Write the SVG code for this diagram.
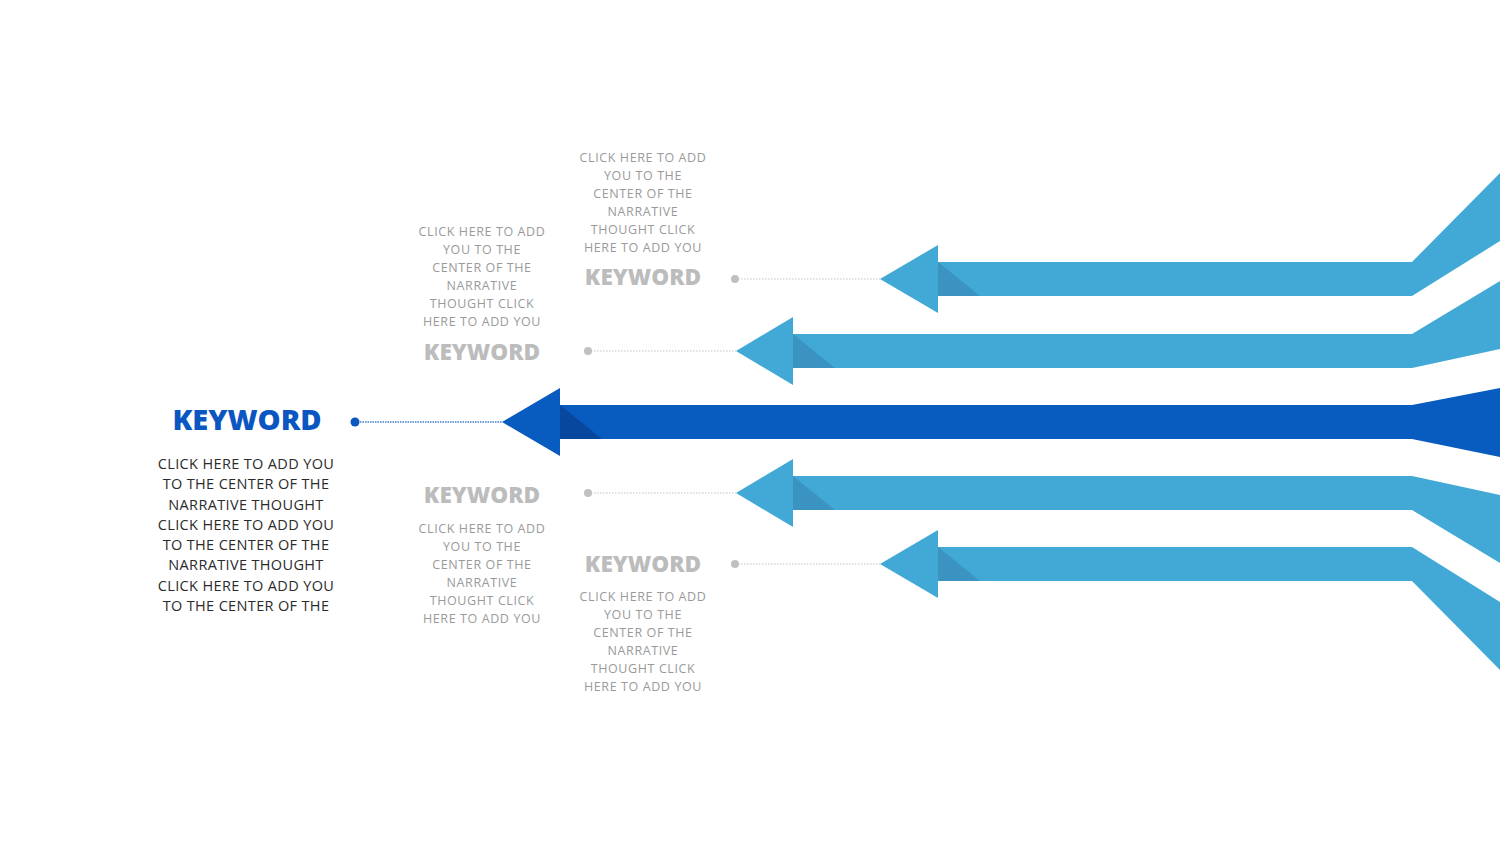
<svg xmlns="http://www.w3.org/2000/svg" width="1500" height="844" viewBox="0 0 1500 844">
<style>
.lb{fill:#42a9d6}
.lbd{fill:#3a93c0}
.db{fill:#085bbf}
.dbd{fill:#07479e}
.kw{font-family:"Open Sans","Liberation Sans",sans-serif;font-weight:800;font-size:22.6px;fill:#bcbcbc;text-anchor:middle}
.kwb{font-family:"Open Sans","Liberation Sans",sans-serif;font-weight:800;font-size:29px;fill:#0a57c2;text-anchor:middle}
.gt{font-family:"Open Sans","Liberation Sans",sans-serif;font-size:12.5px;fill:#9a9a9a;text-anchor:middle;letter-spacing:0.6px}
.bt{font-family:"Open Sans","Liberation Sans",sans-serif;font-size:14.5px;fill:#2b2b2b;text-anchor:middle;letter-spacing:0.35px}
.dl{stroke:#c4c4c4;stroke-width:1.2;stroke-dasharray:1.5 1.5;fill:none}
.dlb{stroke:#3f7fd0;stroke-width:1.5;stroke-dasharray:1.5 1;fill:none}
</style>
<rect width="1500" height="844" fill="#ffffff"/>
<g id="connectors">
<line class="dl" x1="735" y1="279" x2="880" y2="279"/>
<circle cx="735" cy="279" r="4" fill="#c0c0c0"/>
<line class="dl" x1="588" y1="351" x2="736" y2="351"/>
<circle cx="588" cy="351" r="4" fill="#c0c0c0"/>
<line class="dlb" x1="355" y1="422" x2="502" y2="422"/>
<circle cx="355" cy="422" r="4.5" fill="#0a57c2"/>
<line class="dl" x1="588" y1="493" x2="736" y2="493"/>
<circle cx="588" cy="493" r="4" fill="#c0c0c0"/>
<line class="dl" x1="735" y1="564" x2="880" y2="564"/>
<circle cx="735" cy="564" r="4" fill="#c0c0c0"/>
</g>
<g id="arrow1">
<polygon class="lb" points="938,262 1412,262 1500,173 1500,241 1412,296 938,296"/>
<polygon class="lbd" points="938,262 980,296 938,296"/>
<polygon class="lb" points="880,279 938,245 938,313"/>
</g>
<g id="arrow2">
<polygon class="lb" points="793,334 1412,334 1500,281 1500,349 1412,368 793,368"/>
<polygon class="lbd" points="793,334 835,368 793,368"/>
<polygon class="lb" points="736,351 793,317 793,385"/>
</g>
<g id="arrow3">
<polygon class="db" points="560,405 1412,405 1500,388 1500,457 1412,439 560,439"/>
<polygon class="dbd" points="560,405 602,439 560,439"/>
<polygon class="db" points="502,422 560,388 560,456"/>
</g>
<g id="arrow4">
<polygon class="lb" points="793,476 1412,476 1500,495 1500,563 1412,510 793,510"/>
<polygon class="lbd" points="793,476 835,510 793,510"/>
<polygon class="lb" points="736,493 793,459 793,527"/>
</g>
<g id="arrow5">
<polygon class="lb" points="938,547 1412,547 1500,602 1500,670 1412,581 938,581"/>
<polygon class="lbd" points="938,547 980,581 938,581"/>
<polygon class="lb" points="880,564 938,530 938,598"/>
</g>
<g id="node-top">
<text class="gt" x="643"><tspan x="643" y="162">CLICK HERE TO ADD</tspan><tspan x="643" y="180">YOU TO THE</tspan><tspan x="643" y="198">CENTER OF THE</tspan><tspan x="643" y="216">NARRATIVE</tspan><tspan x="643" y="234">THOUGHT CLICK</tspan><tspan x="643" y="252">HERE TO ADD YOU</tspan></text>
<text class="kw" x="643" y="285">KEYWORD</text>
</g>
<g id="node-upper">
<text class="gt" x="482"><tspan x="482" y="236">CLICK HERE TO ADD</tspan><tspan x="482" y="254">YOU TO THE</tspan><tspan x="482" y="272">CENTER OF THE</tspan><tspan x="482" y="290">NARRATIVE</tspan><tspan x="482" y="308">THOUGHT CLICK</tspan><tspan x="482" y="326">HERE TO ADD YOU</tspan></text>
<text class="kw" x="482" y="360">KEYWORD</text>
</g>
<g id="node-main">
<text class="kwb" x="247" y="430">KEYWORD</text>
<text class="bt" x="246"><tspan x="246" y="469">CLICK HERE TO ADD YOU</tspan><tspan x="246" y="489">TO THE CENTER OF THE</tspan><tspan x="246" y="510">NARRATIVE THOUGHT</tspan><tspan x="246" y="530">CLICK HERE TO ADD YOU</tspan><tspan x="246" y="550">TO THE CENTER OF THE</tspan><tspan x="246" y="570">NARRATIVE THOUGHT</tspan><tspan x="246" y="591">CLICK HERE TO ADD YOU</tspan><tspan x="246" y="611">TO THE CENTER OF THE</tspan></text>
</g>
<g id="node-lower">
<text class="kw" x="482" y="503">KEYWORD</text>
<text class="gt" x="482"><tspan x="482" y="533">CLICK HERE TO ADD</tspan><tspan x="482" y="551">YOU TO THE</tspan><tspan x="482" y="569">CENTER OF THE</tspan><tspan x="482" y="587">NARRATIVE</tspan><tspan x="482" y="605">THOUGHT CLICK</tspan><tspan x="482" y="623">HERE TO ADD YOU</tspan></text>
</g>
<g id="node-bottom">
<text class="kw" x="643" y="572">KEYWORD</text>
<text class="gt" x="643"><tspan x="643" y="601">CLICK HERE TO ADD</tspan><tspan x="643" y="619">YOU TO THE</tspan><tspan x="643" y="637">CENTER OF THE</tspan><tspan x="643" y="655">NARRATIVE</tspan><tspan x="643" y="673">THOUGHT CLICK</tspan><tspan x="643" y="691">HERE TO ADD YOU</tspan></text>
</g>
</svg>
